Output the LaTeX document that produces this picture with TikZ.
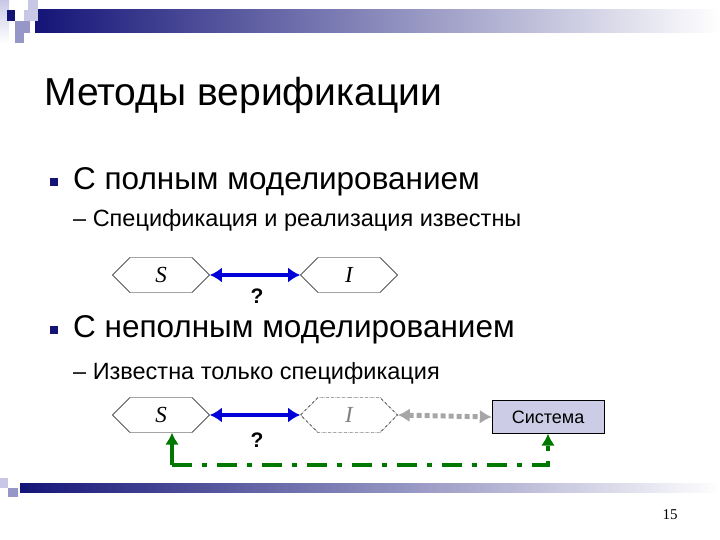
\documentclass[tikz,border=0pt]{standalone}
\usepackage{fontspec}
\setmainfont{Liberation Sans}
\newfontfamily\serifont{Liberation Serif}
\usetikzlibrary{arrows.meta,shapes.geometric,shapes.symbols}
\definecolor{navy}{RGB}{20,20,120}
\definecolor{lav}{RGB}{200,200,230}
\definecolor{mlav}{RGB}{150,150,200}
\definecolor{sysfill}{RGB}{204,204,230}
\definecolor{dgreen}{RGB}{0,120,0}
\tikzset{
  hex/.style={draw,thin,signal,signal to=east and west,minimum width=97pt,minimum height=35pt,inner sep=0pt,font=\serifont\itshape\fontsize{23}{23}\selectfont},
  bul/.style={fill=navy,minimum size=8pt,inner sep=0pt},
  big/.style={anchor=west,inner sep=0pt,font=\fontsize{31.5}{31.5}\selectfont},
  sub/.style={anchor=west,inner sep=0pt,font=\fontsize{23.5}{23.5}\selectfont},
  qm/.style={font=\bfseries\fontsize{21}{21}\selectfont},
  tip/.style={Latex[length=12pt,width=14pt]},
}
\begin{document}
\begin{tikzpicture}[x=1pt,y=-1pt]
\useasboundingbox (0,0) rectangle (720,540);
% header decoration
\shade[left color=navy,right color=white] (35,10) rectangle (720,33);
\shade[top color=lav,bottom color=white] (0,0) rectangle (9,43);
\fill[navy] (7,10) rectangle (15,21);
\fill[lav] (28,0) rectangle (38,10);
\fill[lav] (24,10) rectangle (38,21);
\fill[mlav] (15,21) rectangle (30,33);
\fill[mlav] (15,33) rectangle (24,43);
% footer decoration
\shade[left color=navy,right color=white] (20,483) rectangle (720,492);
\fill[lav] (0,478) rectangle (8,488);
\fill[mlav] (8,488) rectangle (18,497);
% texts
\node[anchor=west,inner sep=0pt,font=\fontsize{39}{39}\selectfont] (title) at (44,95) {Методы верификации};
\node[bul] (b1) at (54,182) {};
\node[big] (t1) at (73,182) {С полным моделированием};
\node[sub] (s1) at (73,220) {– Спецификация и реализация известны};
\node[bul] (b2) at (54,330) {};
\node[big] (t2) at (73,330) {С неполным моделированием};
\node[sub] (s2) at (73,373) {– Известна только спецификация};
% diagram 1
\node[hex] (S1) at (161,275) {S};
\node[hex] (I1) at (349,275) {I};
\draw[blue!85!black,line width=4.5pt,{Latex[length=12pt,width=15pt]}-{Latex[length=12pt,width=15pt]}] (S1.east) -- (I1.west);
\node[qm] (q1) at (257,296) {?};
% diagram 2
\node[hex] (S2) at (161,415) {S};
\node[hex,densely dashdotted,text=gray] (I2) at (349,415) {I};
\node[draw,fill=sysfill,minimum width=112pt,minimum height=33pt,inner sep=0pt,font=\fontsize{18}{18}\selectfont] (sys) at (548,417) {Система};
\draw[blue!85!black,line width=4.5pt,{Latex[length=12pt,width=15pt]}-{Latex[length=12pt,width=15pt]}] (S2.east) -- (I2.west);
\draw[gray!70,line width=5pt,dash pattern=on 5pt off 3pt,{Latex[length=12pt,width=14pt]}-{Latex[length=12pt,width=14pt]}] (I2.east) -- (sys.west);
\node[qm] (q2) at (257,440) {?};
\coordinate (g1) at (172,465);
\coordinate (g2) at (548,465);
\draw[dgreen,line width=4.5pt,dash pattern=on 20pt off 10pt on 5pt off 10pt,-{Latex[length=12pt,width=14pt]}] (g1) -- (g2) -- (sys.south);
\draw[dgreen,line width=4.5pt,-{Latex[length=12pt,width=14pt]}] (g1) -- (g1 |- S2.south);
\node[font=\serifont\fontsize{15}{15}\selectfont] (pn) at (670,515) {15};
\end{tikzpicture}
\end{document}
